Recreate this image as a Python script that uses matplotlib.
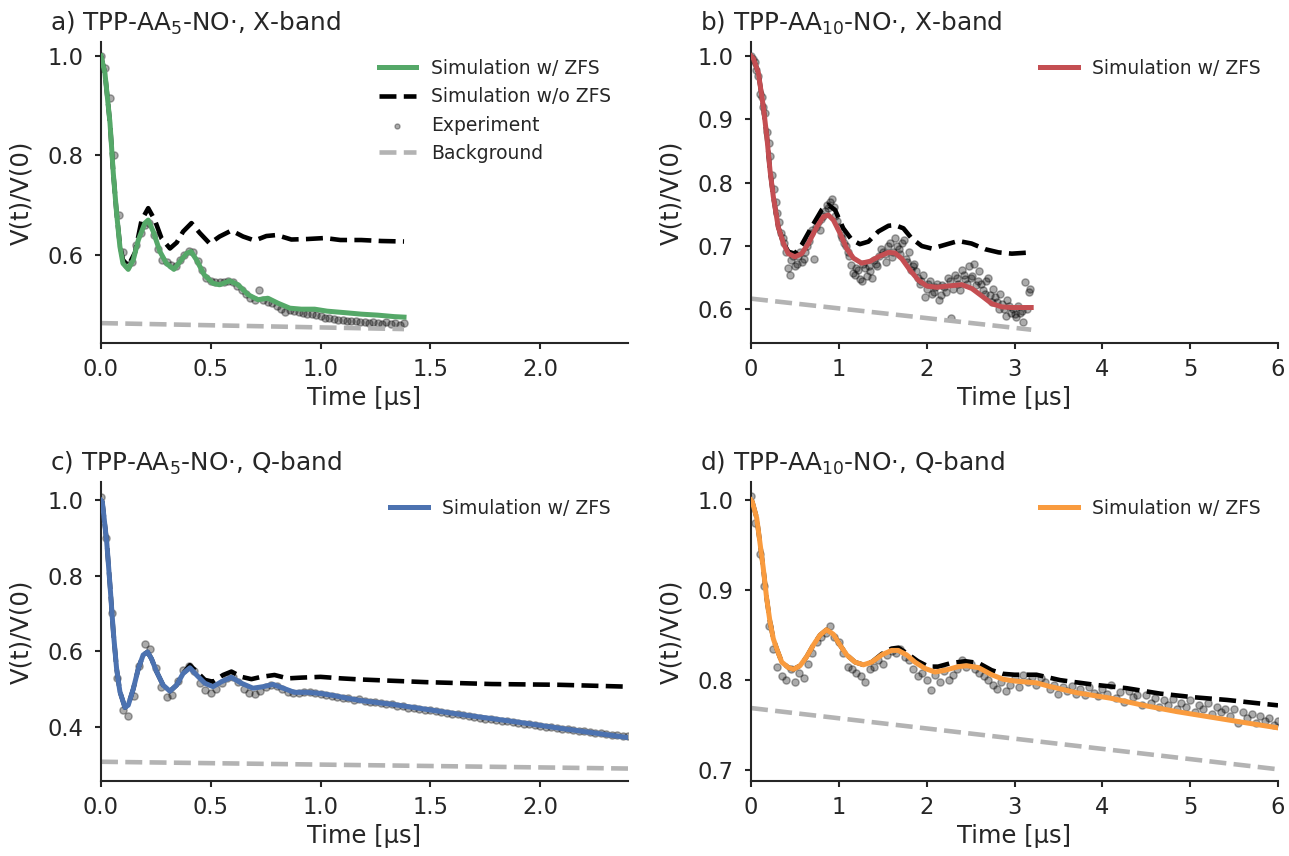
import numpy as np
import matplotlib
matplotlib.use("Agg")
import matplotlib.pyplot as plt

# ---------------- data ----------------
# Panel a: TPP-AA5-NO., X-band
a_sim_t = [0, 0.018, 0.041, 0.056, 0.071, 0.086, 0.10, 0.124, 0.147, 0.17, 0.2, 0.215, 0.238, 0.268,
           0.298, 0.332, 0.36, 0.39, 0.41, 0.435, 0.47, 0.51, 0.54, 0.586, 0.624, 0.67, 0.715, 0.76,
           0.806, 0.86, 0.912, 0.973, 1.03, 1.11, 1.185, 1.26, 1.336, 1.38]
a_sim_v = [1.0, 0.965, 0.865, 0.764, 0.684, 0.617, 0.583, 0.571, 0.59, 0.63, 0.664, 0.670, 0.647, 0.607,
           0.583, 0.571, 0.587, 0.603, 0.607, 0.59, 0.56, 0.543, 0.54, 0.548, 0.54, 0.52, 0.51, 0.513,
           0.503, 0.493, 0.491, 0.491, 0.487, 0.484, 0.481, 0.479, 0.476, 0.475]
a_nozfs_t = [0, 0.018, 0.041, 0.056, 0.071, 0.086, 0.10, 0.124, 0.155, 0.185, 0.215, 0.245, 0.276, 0.314,
             0.345, 0.374, 0.412, 0.45, 0.495, 0.54, 0.594, 0.647, 0.70, 0.753, 0.80, 0.867, 0.94, 1.02,
             1.09, 1.185, 1.276, 1.38]
a_nozfs_v = [1.0, 0.965, 0.865, 0.764, 0.684, 0.62, 0.59, 0.578, 0.605, 0.670, 0.694, 0.67, 0.633, 0.613,
             0.625, 0.647, 0.664, 0.644, 0.623, 0.637, 0.649, 0.637, 0.629, 0.638, 0.64, 0.631, 0.632, 0.634,
             0.63, 0.63, 0.628, 0.627]
a_bg_t = [0, 0.69, 1.38]
a_bg_v = [0.463, 0.457, 0.451]
a_exp_t = np.round(np.arange(0, 1.39, 0.02), 3)
a_exp_v = [1.000, 0.975, 0.915, 0.800, 0.680, 0.605, 0.580, 0.585, 0.620, 0.645,
           0.660, 0.665, 0.640, 0.612, 0.590, 0.585, 0.580, 0.578, 0.590, 0.600,
           0.607, 0.605, 0.588, 0.570, 0.553, 0.548, 0.545, 0.546, 0.546, 0.548,
           0.545, 0.537, 0.530, 0.522, 0.513, 0.510, 0.530, 0.510, 0.506, 0.503,
           0.498, 0.492, 0.486, 0.489, 0.487, 0.486, 0.484, 0.482, 0.481, 0.479,
           0.477, 0.474, 0.473, 0.471, 0.470, 0.470, 0.468, 0.467, 0.468, 0.466,
           0.465, 0.464, 0.466, 0.463, 0.462, 0.465, 0.461, 0.463, 0.460, 0.464]

# Panel b: TPP-AA10-NO., X-band
b_sim_t = [0, 0.027, 0.084, 0.14, 0.18, 0.216, 0.254, 0.31, 0.37, 0.425, 0.5, 0.577, 0.653, 0.748, 0.824,
           0.88, 0.938, 1.014, 1.09, 1.166, 1.26, 1.356, 1.45, 1.565, 1.64, 1.717, 1.81, 1.907, 2.0, 2.115,
           2.25, 2.4, 2.514, 2.63, 2.742, 2.856, 2.97, 3.084, 3.19]
b_sim_v = [1.0, 0.996, 0.973, 0.92, 0.873, 0.82, 0.778, 0.73, 0.704, 0.688, 0.683, 0.688, 0.704, 0.73, 0.746,
           0.749, 0.741, 0.72, 0.696, 0.681, 0.673, 0.676, 0.683, 0.69, 0.689, 0.68, 0.662, 0.646, 0.637, 0.635,
           0.637, 0.639, 0.633, 0.621, 0.609, 0.604, 0.603, 0.603, 0.603]
b_nozfs_t = [0, 0.027, 0.084, 0.14, 0.18, 0.216, 0.254, 0.31, 0.37, 0.425, 0.5, 0.577, 0.69, 0.805, 0.88,
             0.957, 1.05, 1.147, 1.24, 1.337, 1.45, 1.565, 1.64, 1.735, 1.83, 1.945, 2.06, 2.21, 2.36, 2.51,
             2.666, 2.818, 2.97, 3.19]
b_nozfs_v = [1.0, 0.996, 0.973, 0.92, 0.873, 0.82, 0.778, 0.73, 0.705, 0.691, 0.688, 0.702, 0.73, 0.757, 0.765,
             0.757, 0.728, 0.71, 0.703, 0.707, 0.723, 0.732, 0.733, 0.728, 0.712, 0.70, 0.696, 0.702, 0.708, 0.704,
             0.695, 0.69, 0.688, 0.69]
b_bg_t = [0, 3.19]
b_bg_v = [0.617, 0.568]
b_exp_t = np.round(np.arange(0, 3.19, 0.02), 3)
b_exp_v = [1.000, 0.995, 0.990, 0.978, 0.968, 0.940, 0.935, 0.920, 0.910, 0.880,
           0.862, 0.842, 0.812, 0.790, 0.770, 0.752, 0.738, 0.720, 0.712, 0.705,
           0.690, 0.665, 0.655, 0.678, 0.685, 0.668, 0.672, 0.685, 0.690, 0.675,
           0.680, 0.690, 0.700, 0.708, 0.720, 0.725, 0.680, 0.730, 0.738, 0.725,
           0.742, 0.748, 0.755, 0.765, 0.760, 0.770, 0.775, 0.762, 0.748, 0.740,
           0.730, 0.718, 0.712, 0.705, 0.700, 0.690, 0.684, 0.670, 0.658, 0.655,
           0.665, 0.662, 0.648, 0.645, 0.672, 0.665, 0.652, 0.668, 0.660, 0.650,
           0.678, 0.672, 0.668, 0.685, 0.695, 0.690, 0.688, 0.675, 0.700, 0.705,
           0.683, 0.690, 0.712, 0.700, 0.695, 0.688, 0.705, 0.710, 0.680, 0.675,
           0.690, 0.662, 0.668, 0.672, 0.660, 0.650, 0.640, 0.645, 0.655, 0.620,
           0.632, 0.640, 0.645, 0.625, 0.628, 0.635, 0.640, 0.615, 0.622, 0.638,
           0.635, 0.628, 0.650, 0.645, 0.587, 0.633, 0.655, 0.650, 0.640, 0.630,
           0.662, 0.655, 0.648, 0.640, 0.668, 0.650, 0.652, 0.672, 0.638, 0.645,
           0.660, 0.640, 0.630, 0.625, 0.645, 0.650, 0.622, 0.612, 0.632, 0.620,
           0.612, 0.600, 0.625, 0.608, 0.600, 0.590, 0.615, 0.605, 0.595, 0.600,
           0.592, 0.588, 0.605, 0.595, 0.598, 0.580, 0.644, 0.600, 0.628, 0.632]

# Panel c: TPP-AA5-NO., Q-band
c_sim_t = [0, 0.006, 0.026, 0.041, 0.056, 0.071, 0.086, 0.109, 0.124, 0.147, 0.17, 0.192, 0.212, 0.23,
           0.253, 0.283, 0.314, 0.344, 0.374, 0.405, 0.435, 0.473, 0.51, 0.548, 0.594, 0.64, 0.692, 0.738,
           0.783, 0.83, 0.88, 0.94, 1.0, 1.064, 1.124, 1.185, 1.329, 1.48, 1.63, 1.783, 1.935, 2.086, 2.238, 2.4]
c_sim_v = [1.0, 0.996, 0.89, 0.775, 0.652, 0.554, 0.493, 0.451, 0.457, 0.50, 0.554, 0.59, 0.598, 0.58,
           0.546, 0.51, 0.494, 0.51, 0.541, 0.556, 0.537, 0.515, 0.506, 0.519, 0.531, 0.515, 0.502, 0.506,
           0.512, 0.502, 0.491, 0.491, 0.488, 0.482, 0.475, 0.469, 0.459, 0.446, 0.433, 0.421, 0.409, 0.396, 0.384, 0.371]
c_nozfs_t = [0, 0.006, 0.026, 0.041, 0.056, 0.071, 0.086, 0.109, 0.124, 0.147, 0.17, 0.192, 0.212, 0.23,
             0.253, 0.283, 0.314, 0.344, 0.374, 0.405, 0.435, 0.473, 0.51, 0.556, 0.594, 0.64, 0.685, 0.73,
             0.79, 0.85, 0.912, 1.0, 1.094, 1.185, 1.48, 1.78, 2.086, 2.4]
c_nozfs_v = [1.0, 0.996, 0.89, 0.775, 0.652, 0.554, 0.493, 0.451, 0.457, 0.50, 0.554, 0.59, 0.598, 0.58,
             0.546, 0.51, 0.494, 0.51, 0.541, 0.563, 0.546, 0.524, 0.519, 0.537, 0.546, 0.532, 0.526, 0.532,
             0.537, 0.528, 0.53, 0.532, 0.528, 0.525, 0.518, 0.513, 0.511, 0.506]
c_bg_t = [0, 2.4]
c_bg_v = [0.307, 0.289]
c_exp_t = np.round(np.arange(0, 2.401, 0.025), 3)
c_exp_v = [1.010, 0.900, 0.700, 0.530, 0.445, 0.428, 0.480, 0.560, 0.620, 0.605,
           0.555, 0.505, 0.478, 0.485, 0.520, 0.550, 0.562, 0.548, 0.515, 0.498,
           0.490, 0.500, 0.515, 0.528, 0.532, 0.518, 0.500, 0.490, 0.486, 0.495,
           0.505, 0.510, 0.508, 0.500, 0.493, 0.488, 0.490, 0.493, 0.492, 0.490,
           0.487, 0.483, 0.481, 0.479, 0.476, 0.475, 0.472, 0.474, 0.469, 0.465,
           0.466, 0.462, 0.459, 0.461, 0.454, 0.455, 0.450, 0.449, 0.448, 0.444,
           0.445, 0.442, 0.439, 0.437, 0.434, 0.433, 0.430, 0.427, 0.425, 0.424,
           0.421, 0.421, 0.417, 0.416, 0.414, 0.412, 0.410, 0.407, 0.407, 0.404,
           0.403, 0.400, 0.399, 0.396, 0.395, 0.393, 0.392, 0.389, 0.388, 0.385,
           0.384, 0.382, 0.380, 0.378, 0.377, 0.374, 0.376]

# Panel d: TPP-AA10-NO., Q-band
d_sim_t = [0, 0.015, 0.065, 0.1, 0.14, 0.178, 0.216, 0.254, 0.292, 0.35, 0.425, 0.482, 0.558, 0.634, 0.71,
           0.786, 0.86, 0.937, 1.013, 1.09, 1.184, 1.28, 1.374, 1.488, 1.6, 1.677, 1.772, 1.867, 1.98, 2.095,
           2.21, 2.36, 2.455, 2.588, 2.74, 2.87, 3.0, 3.25, 3.40, 3.71, 4.09, 4.47, 4.85, 5.23, 5.61, 6.0]
d_sim_v = [1.0, 0.998, 0.98, 0.954, 0.924, 0.891, 0.865, 0.846, 0.835, 0.82, 0.814, 0.812, 0.816, 0.826, 0.839,
           0.85, 0.856, 0.851, 0.839, 0.828, 0.82, 0.817, 0.82, 0.828, 0.833, 0.833, 0.828, 0.82, 0.813, 0.809,
           0.811, 0.815, 0.816, 0.814, 0.806, 0.801, 0.799, 0.797, 0.793, 0.786, 0.78, 0.772, 0.765, 0.759, 0.753, 0.747]
d_nozfs_t = [0, 0.015, 0.065, 0.1, 0.14, 0.178, 0.216, 0.254, 0.292, 0.35, 0.425, 0.482, 0.558, 0.634, 0.71,
             0.786, 0.86, 0.937, 1.013, 1.09, 1.184, 1.28, 1.374, 1.488, 1.6, 1.677, 1.772, 1.9, 2.02, 2.13,
             2.28, 2.44, 2.59, 2.74, 2.87, 3.0, 3.25, 3.52, 3.9, 4.28, 4.66, 5.04, 5.42, 5.8, 6.0]
d_nozfs_v = [1.0, 0.998, 0.98, 0.954, 0.924, 0.891, 0.865, 0.846, 0.835, 0.82, 0.814, 0.812, 0.816, 0.826, 0.839,
             0.85, 0.856, 0.851, 0.839, 0.828, 0.82, 0.817, 0.82, 0.829, 0.835, 0.836, 0.83, 0.821, 0.815, 0.815,
             0.819, 0.821, 0.819, 0.811, 0.807, 0.806, 0.806, 0.80, 0.795, 0.791, 0.785, 0.781, 0.778, 0.774, 0.772]
d_bg_t = [0, 3.0, 6.0]
d_bg_v = [0.769, 0.735, 0.701]
d_exp_t = np.round(np.arange(0, 6.001, 0.05), 3)
d_exp_v = [1.005, 0.975, 0.940, 0.905, 0.860, 0.835, 0.815, 0.805, 0.800, 0.812,
           0.798, 0.808, 0.802, 0.818, 0.830, 0.842, 0.848, 0.852, 0.860, 0.848,
           0.842, 0.830, 0.815, 0.812, 0.808, 0.805, 0.798, 0.812, 0.815, 0.822,
           0.818, 0.828, 0.832, 0.830, 0.835, 0.826, 0.822, 0.812, 0.805, 0.808,
           0.800, 0.789, 0.806, 0.798, 0.810, 0.800, 0.806, 0.812, 0.822, 0.815,
           0.818, 0.812, 0.808, 0.805, 0.800, 0.795, 0.790, 0.798, 0.788, 0.795,
           0.802, 0.792, 0.806, 0.798, 0.803, 0.795, 0.802, 0.798, 0.790, 0.795,
           0.785, 0.792, 0.788, 0.794, 0.785, 0.790, 0.783, 0.792, 0.786, 0.782,
           0.790, 0.785, 0.795, 0.780, 0.787, 0.776, 0.788, 0.781, 0.784, 0.772,
           0.783, 0.775, 0.780, 0.770, 0.778, 0.772, 0.779, 0.768, 0.775, 0.770,
           0.778, 0.765, 0.772, 0.768, 0.775, 0.762, 0.770, 0.765, 0.768, 0.760,
           0.768, 0.752, 0.765, 0.758, 0.762, 0.752, 0.760, 0.755, 0.758, 0.750,
           0.755]

titles = ["a) TPP-AA$_5$-NO·, X-band", "b) TPP-AA$_{10}$-NO·, X-band",
          "c) TPP-AA$_5$-NO·, Q-band", "d) TPP-AA$_{10}$-NO·, Q-band"]
colors = ["#55A868", "#C44E52", "#4C72B0", "#F99B3E"]
xlims = [(0, 2.4), (0, 6), (0, 2.4), (0, 6)]
ylims = [(0.423, 1.028), (0.547, 1.022), (0.256, 1.0485), (0.688, 1.02)]
xticks = [[0, 0.5, 1.0, 1.5, 2.0], [0, 1, 2, 3, 4, 5, 6], [0, 0.5, 1.0, 1.5, 2.0], [0, 1, 2, 3, 4, 5, 6]]
yticks = [[0.6, 0.8, 1.0], [0.6, 0.7, 0.8, 0.9, 1.0], [0.4, 0.6, 0.8, 1.0], [0.7, 0.8, 0.9, 1.0]]
xtick_fmt = ["{:.1f}", "{:.0f}", "{:.1f}", "{:.0f}"]

panels = [
    (a_sim_t, a_sim_v, a_nozfs_t, a_nozfs_v, a_bg_t, a_bg_v, a_exp_t, a_exp_v),
    (b_sim_t, b_sim_v, b_nozfs_t, b_nozfs_v, b_bg_t, b_bg_v, b_exp_t, b_exp_v),
    (c_sim_t, c_sim_v, c_nozfs_t, c_nozfs_v, c_bg_t, c_bg_v, c_exp_t, c_exp_v),
    (d_sim_t, d_sim_v, d_nozfs_t, d_nozfs_v, d_bg_t, d_bg_v, d_exp_t, d_exp_v),
]

# ---------------- style ----------------
dark = "#262626"
plt.rcParams.update({
    "font.family": ["DejaVu Sans"],
    "text.color": dark,
    "axes.labelcolor": dark,
    "axes.edgecolor": dark,
    "axes.linewidth": 1.5,
    "xtick.color": dark,
    "ytick.color": dark,
    "xtick.major.size": 4.5,
    "ytick.major.size": 4.5,
    "xtick.major.width": 1.5,
    "ytick.major.width": 1.5,
    "xtick.major.pad": 6,
    "ytick.major.pad": 8,
    "xtick.labelsize": 16.3,
    "ytick.labelsize": 16.3,
    "mathtext.default": "regular",
})

fig = plt.figure(figsize=(12.89, 8.56), dpi=100)
W, H = 1289, 856
positions = [
    (101 / W, 1 - 343 / H, 527 / W, 301 / H),
    (751 / W, 1 - 343 / H, 527 / W, 301 / H),
    (101 / W, 1 - 781 / H, 527 / W, 299 / H),
    (751 / W, 1 - 781 / H, 527 / W, 299 / H),
]

for i, (st, sv, nt, nv, bt, bv, et, ev) in enumerate(panels):
    ax = fig.add_axes(positions[i])
    h_sim, = ax.plot(st, sv, color=colors[i], lw=3.6, zorder=4, label="Simulation w/ ZFS",
                     solid_joinstyle="round")
    h_no, = ax.plot(nt, nv, color="black", lw=3.3, ls="--", zorder=3, label="Simulation w/o ZFS")
    h_exp = ax.scatter(et, ev, s=27, color="black", alpha=0.33, linewidths=1.0, zorder=2, label="Experiment")
    h_bg, = ax.plot(bt, bv, color="#b3b3b3", lw=3.3, ls="--", zorder=2, label="Background")

    ax.set_xlim(*xlims[i])
    ax.set_ylim(*ylims[i])
    ax.set_xticks(xticks[i])
    ax.set_xticklabels([xtick_fmt[i].format(v) for v in xticks[i]])
    ax.set_yticks(yticks[i])
    ax.set_yticklabels(["{:.1f}".format(v) for v in yticks[i]])
    for s in ["top", "right"]:
        ax.spines[s].set_visible(False)

    ax.set_xlabel("Time [µs]", fontsize=17.5, labelpad=4)
    ax.set_ylabel("V(t)/V(0)", fontsize=17.5)
    ax.yaxis.set_label_coords(-0.128, 0.5)
    ax.set_title(titles[i], loc="left", x=-0.097, fontsize=17.8, pad=8)

    if i == 0:
        handles = [h_sim, h_no, h_exp, h_bg]
    else:
        handles = [h_sim]
    ax.legend(handles=handles, loc="upper right", frameon=False, fontsize=13.5, markerscale=0.7)

fig.savefig("out.png", dpi=100)
